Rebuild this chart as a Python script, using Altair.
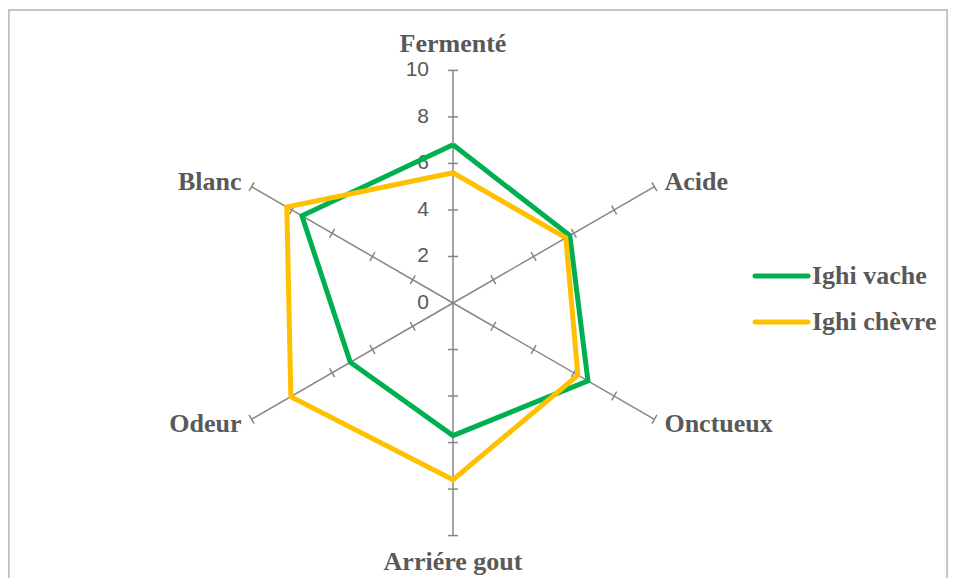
import altair as alt
import pandas as pd

categories = ["Fermenté", "Acide", "Onctueux", "Arriére gout", "Odeur", "Blanc"]
series = ["Ighi vache", "Ighi chèvre"]
vache = [6.8, 5.8, 6.7, 5.7, 5.1, 7.5]
chevre = [5.6, 5.6, 6.2, 7.6, 8.05, 8.25]
tick_values = [0, 2, 4, 6, 8, 10]
colors = ["#00B050", "#FFC000"]

PX = 23.26  # pixels per unit
HGT = 570
xs = alt.Scale(domain=[-445 / PX, 495 / PX], nice=False, zero=False)
ys = alt.Scale(domain=[-(HGT - 295) / PX, 295 / PX], nice=False, zero=False)
cs = alt.Scale(domain=series, range=colors)

# series polygons (closed)
rows = []
for s, vals in zip(series, [vache, chevre]):
    for i in range(len(categories) + 1):
        k = i % len(categories)
        rows.append({"series": s, "k": k, "ord": i, "value": vals[k]})
df_lines = pd.DataFrame(rows)

df_axes = pd.DataFrame({"cat": categories, "k": list(range(len(categories)))})

tick_rows = []
for k, c in enumerate(categories):
    for t in tick_values[1:]:
        tick_rows.append({"k": k, "t": t})
df_ticks = pd.DataFrame(tick_rows)

df_ticklabels = pd.DataFrame({"t": tick_values})
df_legend = pd.DataFrame({"series": series, "i": list(range(len(series)))})

ANG = "datum.k * PI / 3"
H = 5 / PX

axes = alt.Chart(df_axes).transform_calculate(
    a=ANG, x0="0", y0="0", x1="10*sin(datum.a)", y1="10*cos(datum.a)"
).mark_rule(color="#868686", strokeWidth=1.5).encode(
    x=alt.X("x0:Q", scale=xs, axis=None), y=alt.Y("y0:Q", scale=ys, axis=None),
    x2="x1:Q", y2="y1:Q")

ticks = alt.Chart(df_ticks).transform_calculate(
    a=ANG,
    cx="datum.t*sin(datum.a)", cy="datum.t*cos(datum.a)",
).transform_calculate(
    xa=f"datum.cx - {H}*cos(datum.a)", ya=f"datum.cy + {H}*sin(datum.a)",
    xb=f"datum.cx + {H}*cos(datum.a)", yb=f"datum.cy - {H}*sin(datum.a)",
).mark_rule(color="#868686", strokeWidth=1.5).encode(
    x=alt.X("xa:Q", scale=xs, axis=None), y=alt.Y("ya:Q", scale=ys, axis=None),
    x2="xb:Q", y2="yb:Q")

ticklabels = alt.Chart(df_ticklabels).transform_calculate(
    x0="0"
).mark_text(align="right", baseline="middle", dx=-24, font="Liberation Sans",
            fontSize=21, color="#595959").encode(
    x=alt.X("x0:Q", scale=xs, axis=None), y=alt.Y("t:Q", scale=ys, axis=None),
    text="t:Q")

lines = alt.Chart(df_lines).transform_calculate(
    a=ANG, x="datum.value*sin(datum.a)", y="datum.value*cos(datum.a)"
).mark_line(strokeWidth=5, strokeJoin="miter").encode(
    x=alt.X("x:Q", scale=xs, axis=None), y=alt.Y("y:Q", scale=ys, axis=None),
    order="ord:Q",
    color=alt.Color("series:N", scale=cs, legend=None),
    detail="series:N")

label_common = dict(baseline="middle", font="Liberation Serif", fontWeight="bold",
                    fontSize=26, color="#595959")

lab_center = alt.Chart(df_axes).transform_filter("datum.k == 0 || datum.k == 3").transform_calculate(
    a=ANG, x="0", y=f"(10 + {26 / PX})*cos(datum.a)"
).mark_text(align="center", **label_common).encode(
    x=alt.X("x:Q", scale=xs, axis=None), y=alt.Y("y:Q", scale=ys, axis=None), text="cat:N")

lab_right = alt.Chart(df_axes).transform_filter("datum.k == 1 || datum.k == 2").transform_calculate(
    a=ANG, x=f"10*sin(datum.a) + {10 / PX}", y="10*cos(datum.a) + 0.4*cos(datum.a)"
).mark_text(align="left", **label_common).encode(
    x=alt.X("x:Q", scale=xs, axis=None), y=alt.Y("y:Q", scale=ys, axis=None), text="cat:N")

lab_left = alt.Chart(df_axes).transform_filter("datum.k == 4 || datum.k == 5").transform_calculate(
    a=ANG, x=f"10*sin(datum.a) - {10 / PX}", y="10*cos(datum.a) + 0.4*cos(datum.a)"
).mark_text(align="right", **label_common).encode(
    x=alt.X("x:Q", scale=xs, axis=None), y=alt.Y("y:Q", scale=ys, axis=None), text="cat:N")

leg_lines = alt.Chart(df_legend).transform_calculate(
    xa=f"{302 / PX}", xb=f"{355 / PX}", y=f"{27 / PX} - datum.i*{46 / PX}"
).mark_rule(strokeWidth=5, strokeCap="round").encode(
    x=alt.X("xa:Q", scale=xs, axis=None), x2="xb:Q",
    y=alt.Y("y:Q", scale=ys, axis=None),
    color=alt.Color("series:N", scale=cs, legend=None))

leg_text = alt.Chart(df_legend).transform_calculate(
    x=f"{359 / PX}", y=f"{27 / PX} - datum.i*{46 / PX}"
).mark_text(align="left", **label_common).encode(
    x=alt.X("x:Q", scale=xs, axis=None), y=alt.Y("y:Q", scale=ys, axis=None), text="series:N")

frame_top = alt.Chart(df_legend).mark_rule(color="#c0c0c0", strokeWidth=1.5).encode(
    x=alt.value(0), x2=alt.value(940), y=alt.value(2))
frame_left = alt.Chart(df_legend).mark_rule(color="#c0c0c0", strokeWidth=1.5).encode(
    x=alt.value(0.75), y=alt.value(2), y2=alt.value(HGT))
frame_right = alt.Chart(df_legend).mark_rule(color="#c0c0c0", strokeWidth=1.5).encode(
    x=alt.value(939.25), y=alt.value(2), y2=alt.value(HGT))

chart = alt.layer(
    frame_top, frame_left, frame_right,
    axes, ticks, ticklabels, lines, lab_center, lab_right, lab_left, leg_lines, leg_text
).properties(width=940, height=HGT, padding=0, autosize="none", background="white"
).configure_view(stroke=None)

chart.save("out.html", embed_options={"renderer": "svg", "actions": False})
